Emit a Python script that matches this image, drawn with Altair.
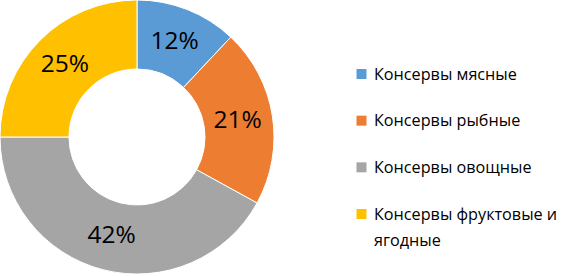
import altair as alt
import pandas as pd

categories = ["Консервы мясные", "Консервы рыбные", "Консервы овощные", "Консервы фруктовые и ягодные"]
values = [12, 21, 42, 25]
pct_labels = ["12%", "21%", "42%", "25%"]
legend_lines = [["Консервы мясные"], ["Консервы рыбные"], ["Консервы овощные"], ["Консервы фруктовые и", "ягодные"]]
colors = ["#5B9BD5", "#ED7D31", "#A5A5A5", "#FFC000"]

df = pd.DataFrame({
    "cat": categories,
    "value": values,
    "label": pct_labels,
    "order": list(range(len(categories))),
    "lines": legend_lines,
})

FONT = "Open Sans"
cx, cy = 137, 137

base = alt.Chart(df)
color = alt.Color("cat:N", scale=alt.Scale(domain=categories, range=colors), legend=None)
theta = alt.Theta("value:Q", stack=True)

arc = base.mark_arc(innerRadius=68, outerRadius=137, stroke="white", strokeWidth=1).encode(
    theta=theta, color=color, order=alt.Order("order:Q"),
    x=alt.value(cx), y=alt.value(cy),
)

text = base.mark_text(radius=102, fontSize=24.5, font=FONT, color="#000000").encode(
    theta=theta, text="label:N", order=alt.Order("order:Q"),
    x=alt.value(cx), y=alt.value(cy),
)

yenc = alt.Y("cat:N", sort=categories,
             scale=alt.Scale(type="point", domain=categories, range=[74, 214], padding=0),
             axis=None)

squares = base.mark_square(size=100, opacity=1).encode(
    x=alt.value(361.5), y=yenc, color=color,
)

leg_text = base.mark_text(align="left", baseline="alphabetic", dy=5.5, fontSize=16.2,
                          font=FONT, color="#000000", lineHeight=26).encode(
    x=alt.value(374), y=yenc, text="lines",
)

chart = alt.layer(arc, text, squares, leg_text).properties(
    width=578, height=276, padding=0, autosize=alt.AutoSizeParams(type="none"),
).configure_view(stroke=None)

chart.save("out.html", embed_options={"renderer": "svg", "actions": False})
